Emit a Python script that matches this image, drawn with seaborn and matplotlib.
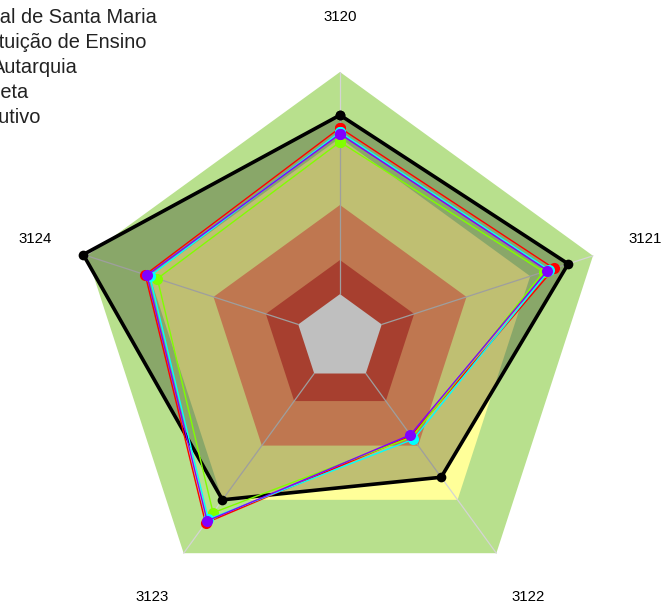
import numpy as np
import pandas as pd
import matplotlib
matplotlib.use('Agg')
import matplotlib.pyplot as plt
import seaborn as sns

# eixos do radar
categorias = ['3120', '3121', '3122', '3123', '3124']

# series (escala 0-100)
ufsm = [83.8, 90.2, 64.7, 75.2, 101.5]
inst_ensino = [79.0, 84.6, 45.5, 86.0, 77.0]
autarquia = [73.7, 80.5, 46.0, 81.2, 72.2]
adm_direta = [77.4, 82.7, 47.0, 84.2, 75.2]
poder_exec = [76.7, 82.0, 45.0, 85.0, 76.3]

nomes = ['Universidade Federal de Santa Maria', 'Instituição de Ensino',
         'Autarquia', 'Administração Direta', 'Poder Executivo']
cores = ['black', '#FF0000', '#80FF00', '#00FFFF', '#8000FF']

# faixas de fundo (limites e cores)
faixas = [100, 75.2, 50.0, 29.3, 16.5]
cores_faixas = ['#B8E08D', '#FFFF99', '#FFA06B', '#E05540', 'white']

sns.set_theme(style='white')
plt.rcParams['font.family'] = ['Liberation Sans', 'DejaVu Sans']

fig = plt.figure(figsize=(6.64, 6.10), dpi=100)
rmax = 105
rad_px = 266 * rmax / 100
ax = fig.add_axes([(340 - rad_px) / 664, (272 - rad_px) / 610, 2 * rad_px / 664, 2 * rad_px / 610],
                  projection='polar')
ax.set_theta_offset(np.pi / 2)
ax.set_theta_direction(-1)
ax.set_facecolor('none')

n = len(categorias)
ang = np.arange(n) * 2 * np.pi / n
ang_f = np.append(ang, ang[0] + 2 * np.pi)

# faixas
for lim, c in zip(faixas, cores_faixas):
    ax.fill(ang_f, [lim] * (n + 1), color=c, lw=0, zorder=1)

# raios
for a in ang:
    ax.plot([a, a], [faixas[-1], faixas[0]], color='#D4D4D4', lw=0.9, zorder=2)

# serie principal com preenchimento
v = np.append(ufsm, ufsm[0])
ax.fill(ang_f, v, color='black', alpha=0.25, lw=0, zorder=3)

series = [ufsm, inst_ensino, autarquia, adm_direta, poder_exec]
linhas = []
for nome, vals in zip(nomes, series):
    for a, val in zip(ang_f, np.append(vals, vals[0])):
        linhas.append({'serie': nome, 'theta': a, 'valor': val})
df = pd.DataFrame(linhas)

paleta = dict(zip(nomes, cores))
sns.lineplot(data=df[df.serie == nomes[0]], x='theta', y='valor', hue='serie', palette=paleta,
             sort=False, estimator=None, lw=2.6, marker='o', markersize=7, markeredgewidth=0,
             legend=False, ax=ax, zorder=4)
for nome in nomes[1:]:
    sns.lineplot(data=df[df.serie == nome], x='theta', y='valor', hue='serie', palette=paleta,
                 sort=False, estimator=None, lw=1.0, marker='o', markersize=8, markeredgewidth=0,
                 legend=False, ax=ax, zorder=5)

ax.set_ylim(0, rmax)
ax.set_xlabel('')
ax.set_ylabel('')
ax.set_xticks([])
ax.set_yticks([])
ax.grid(False)
ax.spines['polar'].set_visible(False)

# rotulos dos eixos
for a, cat in zip(ang, categorias):
    ax.text(a, 120.5, cat, ha='center', va='center', fontsize=10.8, color='black', clip_on=False)

# legenda (cortada na borda esquerda)
fim_x = [157, 146, 78, 28, 40]
base_y = [23, 48, 73, 98, 123]
for nome, x, y in zip(nomes, fim_x, base_y):
    fig.text(x / 664, 1 - y / 610, nome, ha='right', va='baseline', fontsize=14.4, color='#222222')

fig.savefig('out.png', dpi=100)
